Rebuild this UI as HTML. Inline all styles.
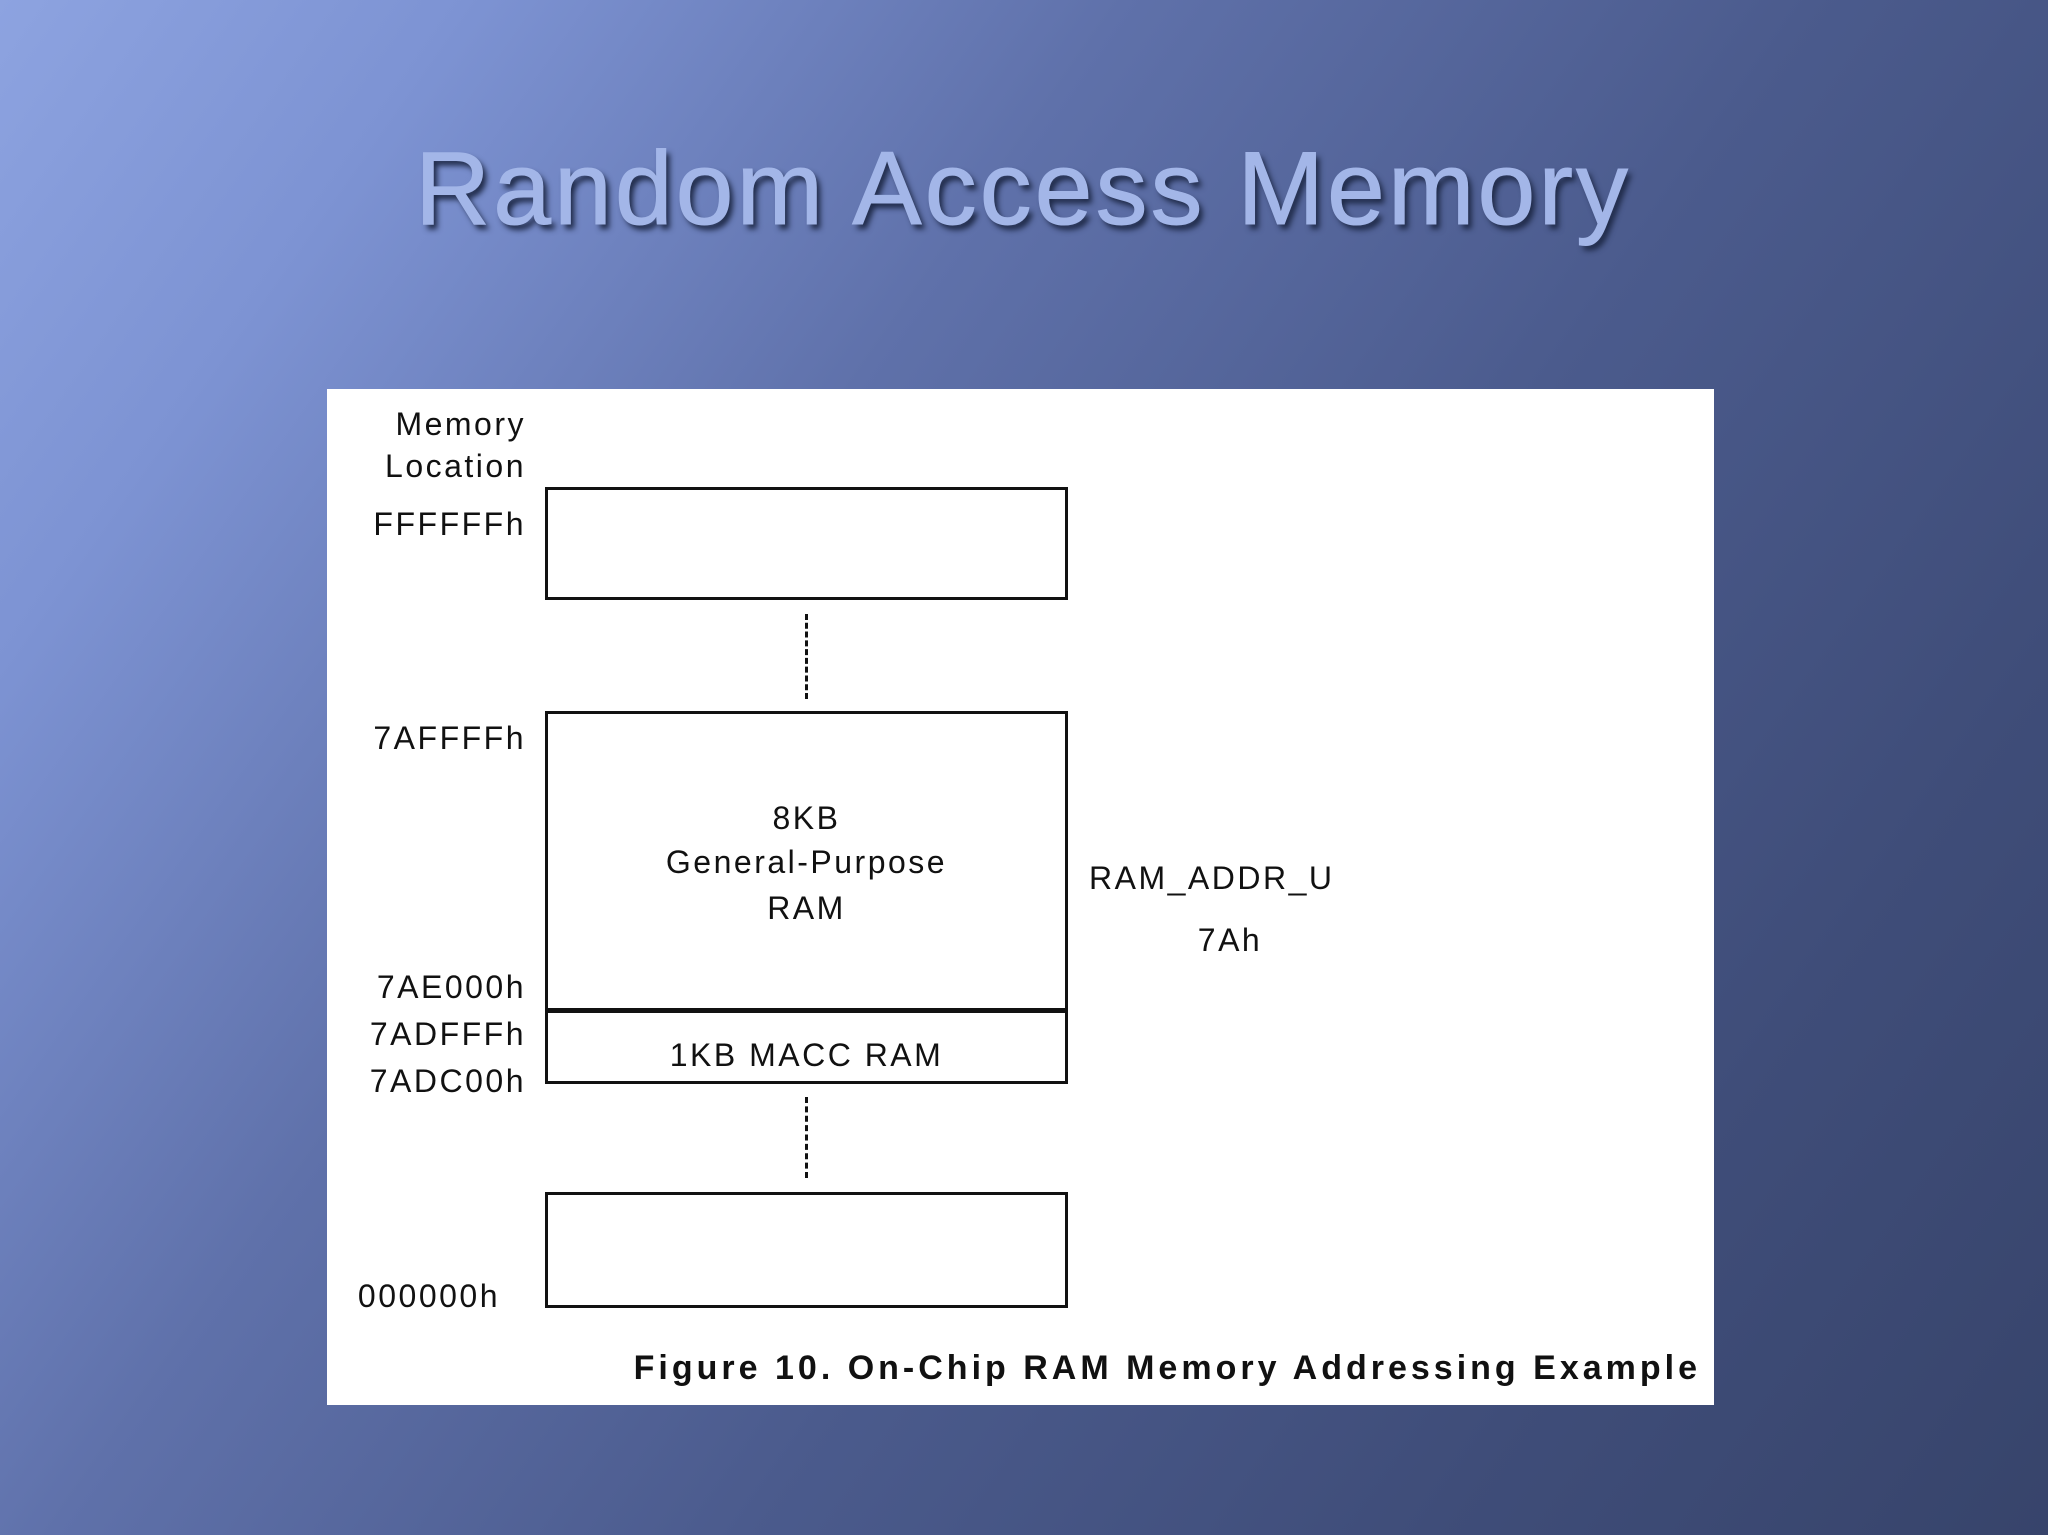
<!DOCTYPE html>
<html><head><meta charset="utf-8"><style>
html,body{margin:0;padding:0}
body{width:2048px;height:1535px;position:relative;overflow:hidden;
background:linear-gradient(125deg,#8da3e0 0%,#7d93d3 15%,#5f71aa 36%,#4b5b8d 58%,#3f4d79 80%,#37446b 100%);
font-family:"Liberation Sans",sans-serif}
.title{position:absolute;left:0;width:2046px;top:130px;text-align:center;font-size:104px;color:#a3b6e8;
text-shadow:4px 5px 6px #1f2a48;letter-spacing:3px;-webkit-text-stroke:1px #a3b6e8}
.panel{position:absolute;left:327px;top:389px;width:1387px;height:1016px;background:#fff}
.t{position:absolute;font-size:32px;color:#111;line-height:1;white-space:nowrap;letter-spacing:2.5px}
.r{text-align:right}
.box{position:absolute;border:3px solid #111;box-sizing:border-box}
.dash{position:absolute;left:805px;width:0;border-left:3px dashed #111}
</style></head><body>
<div class="title">Random Access Memory</div>
<div class="panel"></div>
<div class="t r" style="right:1522px;top:408px">Memory</div>
<div class="t r" style="right:1522px;top:450px">Location</div>
<div class="t r" style="right:1522px;top:508px">FFFFFFh</div>
<div class="t r" style="right:1522px;top:722px">7AFFFFh</div>
<div class="t r" style="right:1522px;top:971px">7AE000h</div>
<div class="t r" style="right:1522px;top:1018px">7ADFFFh</div>
<div class="t r" style="right:1522px;top:1065px">7ADC00h</div>
<div class="t r" style="right:1548px;top:1280px">000000h</div>
<div class="box" style="left:545px;top:487px;width:523px;height:113px"></div>
<div class="dash" style="top:614px;height:85px"></div>
<div class="box" style="left:545px;top:711px;width:523px;height:302px"></div>
<div class="box" style="left:545px;top:1008px;width:523px;height:76px"></div>
<div class="dash" style="top:1097px;height:81px"></div>
<div class="box" style="left:545px;top:1192px;width:523px;height:116px"></div>
<div class="t" style="left:545px;width:523px;text-align:center;top:802px">8KB</div>
<div class="t" style="left:545px;width:523px;text-align:center;top:846px">General-Purpose</div>
<div class="t" style="left:545px;width:523px;text-align:center;top:892px">RAM</div>
<div class="t" style="left:545px;width:523px;text-align:center;top:1039px">1KB MACC RAM</div>
<div class="t" style="left:1089px;top:862px">RAM_ADDR_U</div>
<div class="t" style="left:1130px;width:200px;text-align:center;top:924px">7Ah</div>
<div class="t r" style="right:347px;top:1351px;font-weight:bold;font-size:34px;letter-spacing:4px">Figure 10. On-Chip RAM Memory Addressing Example</div>
</body></html>
